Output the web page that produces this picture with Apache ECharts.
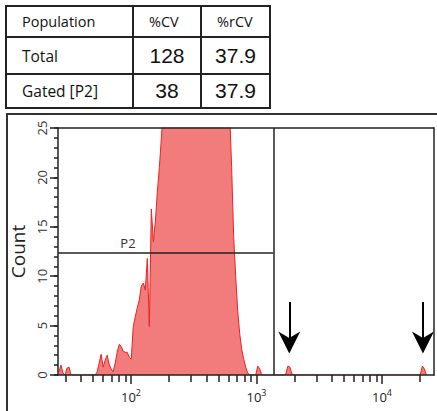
<!DOCTYPE html>
<html><head><meta charset="utf-8">
<script src="https://cdn.jsdelivr.net/npm/echarts@6/dist/echarts.min.js"></script>
<style>
html,body{margin:0;padding:0;width:437px;height:411px;overflow:hidden;background:#fff;}
#frame{position:absolute;left:6px;top:113px;width:600px;height:400px;border-left:2px solid #333;border-top:2px solid #333;}
#chart{position:absolute;left:0;top:0;width:437px;height:411px;}
table{position:absolute;left:5px;top:5px;border-collapse:collapse;table-layout:fixed;font-family:"Open Sans",sans-serif;color:#111;}
td{border:2px solid #222;padding:0 0 0 15px;overflow:hidden;white-space:nowrap;}
tr.h td{height:29px;font-size:14.5px;}
tr.r1 td{height:35px;font-size:15.5px;}
tr.r2 td{height:32px;font-size:15.5px;}
tr td.v{padding:0;text-align:center;font-family:"Liberation Sans",Arial,sans-serif;font-size:21px;}
</style></head>
<body>
<div id="frame"></div>
<table>
<colgroup><col style="width:127px"><col style="width:68px"><col style="width:69px"></colgroup>
<tr class="h"><td>Population</td><td>%CV</td><td>%rCV</td></tr>
<tr class="r1"><td>Total</td><td class="v">128</td><td class="v">37.9</td></tr>
<tr class="r2"><td>Gated [P2]</td><td class="v">38</td><td class="v">37.9</td></tr>
</table>
<div id="chart"></div>
<script>
// Histogram bins (log10 intensity grid) and counts
var binStartLog = 1.426;
var binStepLog = 0.016;
var counts = [
 0.3,1.0,0.2,0,0.7,0.8,0,
 0,0,0,0,0,0,0,0,0,0,0,0,
 0.3,1.2,2.1,0.8,1.5,2.0,1.1,0.6,0.3,1.2,2.3,3.1,2.9,2.4,2.3,2.3,1.8,1.6,
 4.9,5.9,6.8,7.6,9.0,9.3,8.6,11.8,4.9,16.8,13.5,15.5,18.5,21,24,
 27,30,33,36,39,42,45,47,49,51,52,53,54,54,55,54,53,52,51,49,47,45,43,41,39,37,35,33,31,30,29,28,27,26.5,
 21,14,10,6.5,4.2,2.6,1.6,0.8,0.2,
 0,0,0,0,
 0.9,0.6,0,
 0,0,0,0,0,0,0,0,0,0,0,
 0.1,0.9,0.8,0.1,
 0,0,0,0,0,0,0,0,0,0,0,0,0,0,0,0,0,0,0,0,0,0,0,0,0,0,0,0,0,0,0,0,0,0,0,0,0,0,0,0,0,0,0,0,0,0,0,0,0,0,0,0,0,0,0,0,0,0,0,0,0,0,0,
 0.1,0.9,0.6,0
];
var xMin = 26.2, xMax = 25960;
var majorTicks = [100, 1000, 10000];
var minorTicks = [30,40,50,60,70,80,90,200,300,400,500,600,700,800,900,2000,3000,4000,5000,6000,7000,8000,9000,20000];
var gateX = 1362;      // vertical divider
var p2Level = 12.4;    // P2 gate height
var p2LabelX = 94.6;
var arrowXs = [1824, 21200];
var arrowTop = 7.4, arrowEnd = 3.3;

var L = Math.log10;
var seriesData = counts.map(function(c,i){ return [binStartLog + binStepLog*i, c]; });
var font = '"Open Sans", sans-serif';
var axisCol = '#222';

var chart = echarts.init(document.getElementById('chart'), null, {renderer:'svg'});
var baseX = {type:'value', min:L(xMin), max:L(xMax), splitLine:{show:false}, z:5};
chart.setOption({
  animation:false,
  grid:{left:58, right:3, top:128, bottom:36},
  xAxis:[
    Object.assign({}, baseX, {position:'bottom',
      axisLine:{show:true, onZero:false, lineStyle:{color:axisCol, width:1.5}},
      axisTick:{show:true, length:9, lineStyle:{color:axisCol, width:1.5}, customValues:majorTicks.map(L)},
      axisLabel:{show:true, margin:13, customValues:majorTicks.map(L),
        formatter:function(v){ return '{b|10}{s|' + Math.round(v) + '}'; },
        rich:{b:{fontSize:13, fontFamily:font, color:'#222'}, s:{fontSize:9, fontFamily:font, color:'#222', padding:[0,0,9,0]}}}
    }),
    Object.assign({}, baseX, {position:'bottom',
      axisLine:{show:false},
      axisTick:{show:true, length:7, lineStyle:{color:axisCol, width:1.5}, customValues:minorTicks.map(L)},
      axisLabel:{show:false}
    }),
    Object.assign({}, baseX, {position:'top',
      axisLine:{show:true, onZero:false, lineStyle:{color:axisCol, width:1.5}},
      axisTick:{show:false}, axisLabel:{show:false}
    })
  ],
  yAxis:[
    {type:'value', min:0, max:25, interval:5, position:'left', z:5,
     name:'Count', nameLocation:'middle', nameGap:28,
     nameTextStyle:{fontSize:19, fontFamily:font, color:'#222'},
     axisLine:{show:true, lineStyle:{color:axisCol, width:1.5}},
     axisTick:{show:true, length:8, lineStyle:{color:axisCol, width:1.5}},
     splitLine:{show:false},
     axisLabel:{rotate:90, margin:10, fontSize:13, fontFamily:font, color:'#333'}
    },
    {type:'value', min:0, max:25, interval:1, position:'left', offset:0, z:5,
     axisLine:{show:false},
     axisTick:{show:true, length:4, lineStyle:{color:axisCol, width:1.5}},
     axisLabel:{show:false}, splitLine:{show:false}},
    {type:'value', min:0, max:25, position:'right', z:5,
     axisLine:{show:true, lineStyle:{color:axisCol, width:1.5}},
     axisTick:{show:false}, axisLabel:{show:false}, splitLine:{show:false}}
  ],
  series:[{
    type:'line', xAxisIndex:0, yAxisIndex:0, data:seriesData, symbol:'none',
    lineStyle:{color:'#ee2020', width:1},
    areaStyle:{color:'#f27b7b', opacity:1},
    z:2,
    markLine:{silent:true, symbol:['none','none'], label:{show:false},
      lineStyle:{color:axisCol, width:1.5, type:'solid'},
      data:[
        [{coord:[L(gateX),0]},{coord:[L(gateX),25]}],
        [{coord:[L(xMin),p2Level]},{coord:[L(gateX),p2Level]}]
      ]},
    markPoint:{silent:true, symbol:'circle', symbolSize:0,
      label:{show:true, formatter:'P2', position:'inside', offset:[0,-9], fontSize:13, fontFamily:font, color:'#333'},
      data:[{coord:[L(p2LabelX), p2Level]}]}
  },{
    type:'line', xAxisIndex:0, yAxisIndex:0, data:[], z:6,
    markLine:{silent:true, symbol:['none','path://M5,0 L10,10 L5,7 L0,10 Z'], symbolSize:22, label:{show:false},
      lineStyle:{color:'#000', width:2, type:'solid'},
      itemStyle:{color:'#000'},
      data: arrowXs.map(function(a){ return [{coord:[L(a),arrowTop]},{coord:[L(a),arrowEnd]}]; })}
  }]
});
</script>
</body></html>
